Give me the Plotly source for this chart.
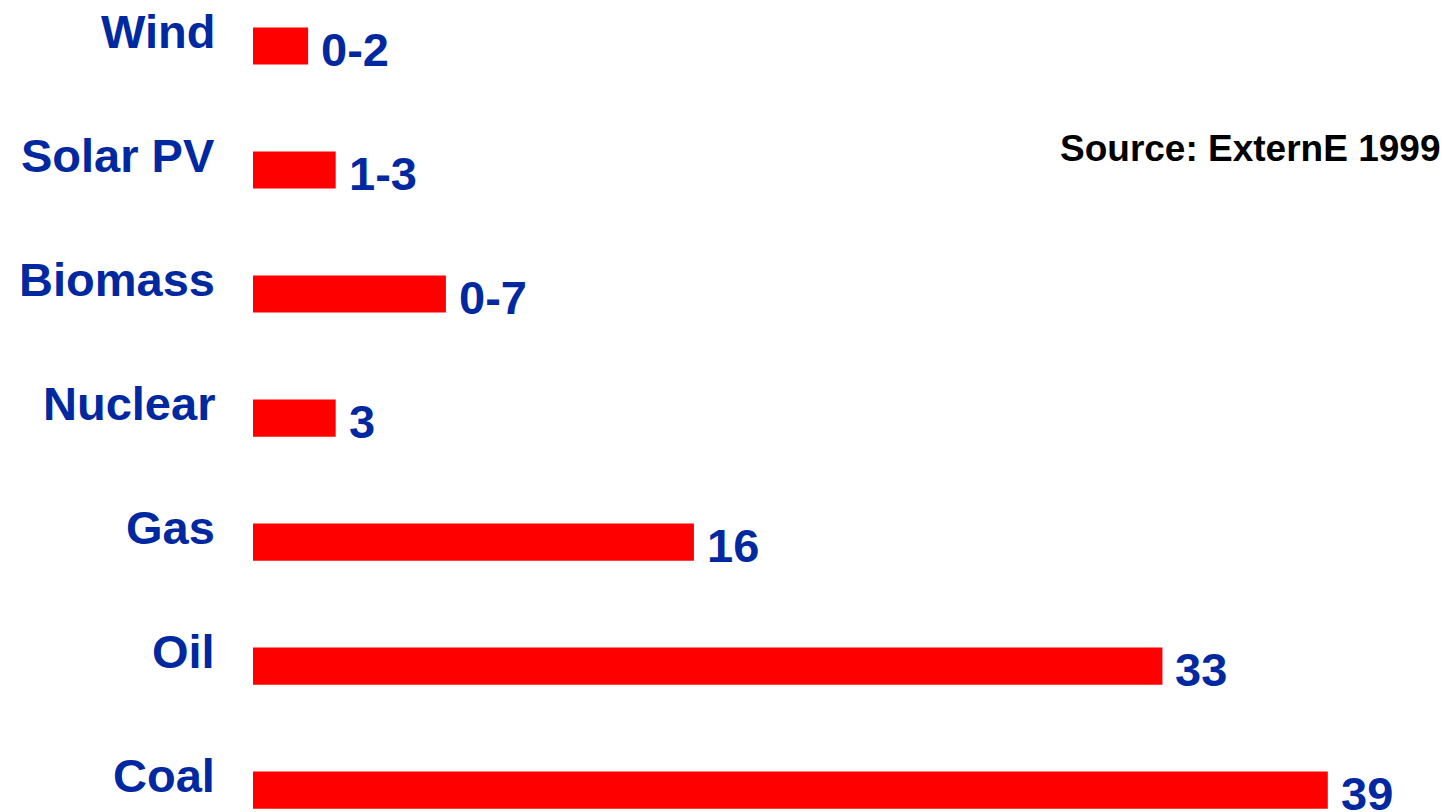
import plotly.graph_objects as go

categories = ["Coal", "Oil", "Gas", "Nuclear", "Biomass", "Solar PV", "Wind"]
bar_values = [39, 33, 16, 3, 7, 3, 2]
value_labels = ["39", "33", "16", "3", "0-7", "1-3", "0-2"]
source_text = "Source: ExternE 1999"

BLUE = "#0028A0"
FONT = "Liberation Sans, Arial, sans-serif"

fig = go.Figure()
fig.add_trace(go.Bar(
    y=categories, x=bar_values, orientation="h",
    marker=dict(color="#FF0000", line=dict(width=0)),
    width=0.3, hoverinfo="skip",
))

annotations = []
for cat, val, lab in zip(categories, bar_values, value_labels):
    annotations.append(dict(
        x=val, y=cat, xref="x", yref="y", text=f"<b>{lab}</b>",
        showarrow=False, xanchor="left", yanchor="middle",
        xshift=12, yshift=-3, borderpad=0,
        font=dict(family=FONT, size=47, color=BLUE),
    ))
    annotations.append(dict(
        x=0, y=cat, xref="x", yref="y", text=f"<b>{cat}</b>",
        showarrow=False, xanchor="right", yanchor="middle",
        xshift=-37, yshift=15, borderpad=0,
        font=dict(family=FONT, size=47, color=BLUE),
    ))
annotations.append(dict(
    x=1, y=1 - 148 / 812, xref="paper", yref="paper", text=f"<b>{source_text}</b>",
    showarrow=False, xanchor="right", yanchor="middle",
    xshift=-2, borderpad=0,
    font=dict(family=FONT, size=37, color="black"),
))

fig.update_layout(
    width=1443, height=812,
    margin=dict(l=253, r=0, t=0, b=0),
    paper_bgcolor="white", plot_bgcolor="white",
    showlegend=False,
    annotations=annotations,
    xaxis=dict(range=[0, 43.18], visible=False, fixedrange=True),
    yaxis=dict(categoryorder="array", categoryarray=categories,
               range=[-0.177, 6.371], visible=False, fixedrange=True),
)
fig.write_html("out.html", config={"displayModeBar": False})
